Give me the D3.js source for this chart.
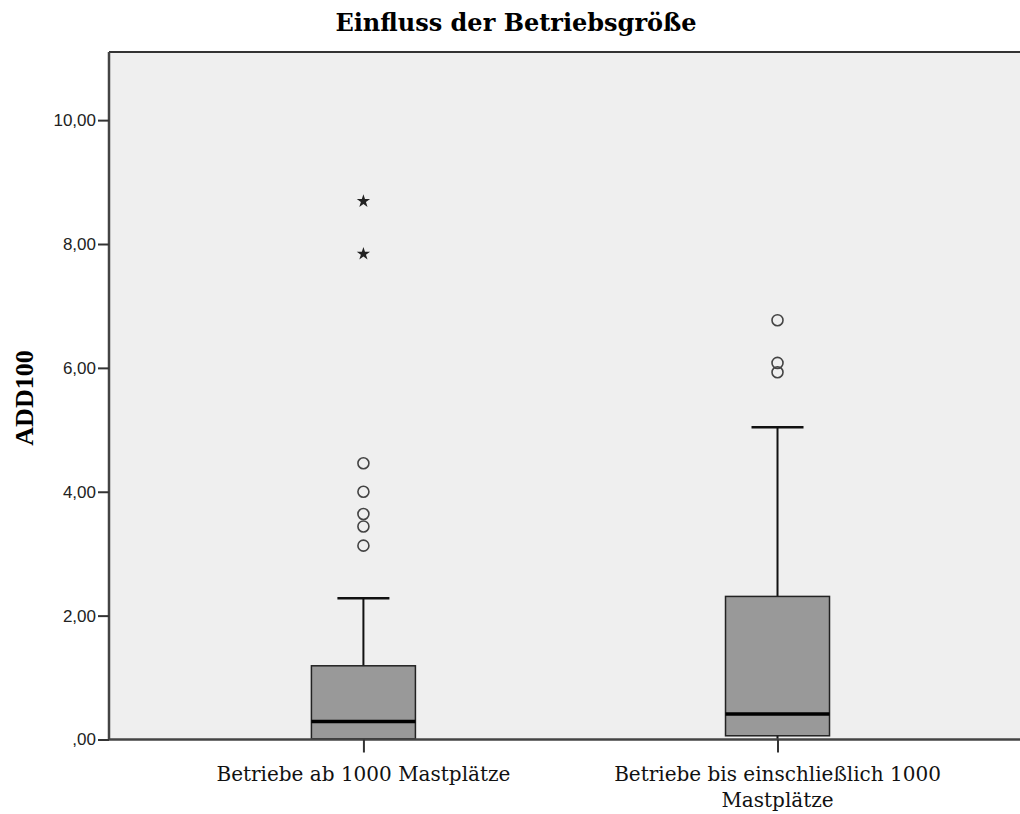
<!DOCTYPE html>
<html>
<head>
<meta charset="utf-8">
<script src="https://cdn.jsdelivr.net/npm/d3@7"></script>
<style>
  body { margin: 0; background: #fff; }
</style>
</head>
<body>
<div id="chart"></div>
<script>
// Boxplot ADD100 nach Betriebsgroesse
var categories = ["Betriebe ab 1000 Mastplätze", "Betriebe bis einschließlich 1000 Mastplätze"];
var whiskerLow = [0.00, 0.00];
var q1 = [0.01, 0.06];
var median = [0.29, 0.41];
var q3 = [1.19, 2.31];
var whiskerHigh = [2.28, 5.04];
var outliers = [[3.13, 3.44, 3.64, 4.00, 4.46], [5.93, 6.08, 6.77]];
var extremes = [[7.84, 8.69], []];
var yTicks = [0, 2, 4, 6, 8, 10];

var svgWidth = 1020,
  svgHeight = 814,
  plotLeft = 109,
  plotTop = 52,
  plotBottom = 739.5,
  plotRight = 1020,
  boxWidth = 104,
  capWidth = 52;

var de = d3.formatLocale({decimal: ",", thousands: ".", grouping: [3], currency: ["", " €"]});
var fmt = de.format(".2f");

var svg = d3.select("#chart")
  .append("svg")
  .attr("width", svgWidth)
  .attr("height", svgHeight);

var y = d3.scaleLinear()
  .domain([0, 11.1])
  .range([plotBottom, plotTop]);

var x = d3.scalePoint()
  .domain(categories)
  .range([plotLeft, plotRight])
  .padding(0.6)
  .align(0.512);

// plot background
svg.append("rect")
  .attr("x", plotLeft)
  .attr("y", plotTop)
  .attr("width", plotRight - plotLeft)
  .attr("height", plotBottom - plotTop)
  .attr("fill", "#efefef");

svg.append("line")
  .attr("x1", plotLeft).attr("x2", plotRight)
  .attr("y1", plotTop).attr("y2", plotTop)
  .attr("stroke", "#333")
  .attr("stroke-width", 2);

var rows = categories.map(function(c, i) {
  return {cat: c, lo: whiskerLow[i], q1: q1[i], med: median[i], q3: q3[i], hi: whiskerHigh[i]};
});

var g = svg.selectAll("g.box")
  .data(rows)
  .enter()
  .append("g")
  .attr("class", "box");

// whiskers
g.append("line")
  .attr("x1", function(d) { return x(d.cat); })
  .attr("x2", function(d) { return x(d.cat); })
  .attr("y1", function(d) { return y(d.q3); })
  .attr("y2", function(d) { return y(d.hi); })
  .attr("stroke", "#111")
  .attr("stroke-width", 2);

g.append("line")
  .attr("x1", function(d) { return x(d.cat); })
  .attr("x2", function(d) { return x(d.cat); })
  .attr("y1", function(d) { return y(d.q1); })
  .attr("y2", function(d) { return y(d.lo); })
  .attr("stroke", "#111")
  .attr("stroke-width", 2);

g.append("line")
  .attr("x1", function(d) { return x(d.cat) - capWidth / 2; })
  .attr("x2", function(d) { return x(d.cat) + capWidth / 2; })
  .attr("y1", function(d) { return y(d.hi); })
  .attr("y2", function(d) { return y(d.hi); })
  .attr("stroke", "#111")
  .attr("stroke-width", 2.5);

// boxes
g.append("rect")
  .attr("x", function(d) { return x(d.cat) - boxWidth / 2; })
  .attr("y", function(d) { return y(d.q3); })
  .attr("width", boxWidth)
  .attr("height", function(d) { return y(d.q1) - y(d.q3); })
  .attr("fill", "#999999")
  .attr("stroke", "#222")
  .attr("stroke-width", 1.5);

g.append("line")
  .attr("x1", function(d) { return x(d.cat) - boxWidth / 2; })
  .attr("x2", function(d) { return x(d.cat) + boxWidth / 2; })
  .attr("y1", function(d) { return y(d.med); })
  .attr("y2", function(d) { return y(d.med); })
  .attr("stroke", "#000")
  .attr("stroke-width", 3.5);

// outliers (circles)
var outPts = [];
categories.forEach(function(c, i) {
  outliers[i].forEach(function(v) { outPts.push({cat: c, v: v}); });
});
svg.selectAll("circle.outlier")
  .data(outPts)
  .enter()
  .append("circle")
  .attr("class", "outlier")
  .attr("cx", function(d) { return x(d.cat); })
  .attr("cy", function(d) { return y(d.v); })
  .attr("r", 5.5)
  .attr("fill", "none")
  .attr("stroke", "#444")
  .attr("stroke-width", 1.6);

// extremes (stars)
var extPts = [];
categories.forEach(function(c, i) {
  extremes[i].forEach(function(v) { extPts.push({cat: c, v: v}); });
});
svg.selectAll("path.extreme")
  .data(extPts)
  .enter()
  .append("path")
  .attr("class", "extreme")
  .attr("d", d3.symbol().type(d3.symbolStar).size(55))
  .attr("transform", function(d) { return "translate(" + x(d.cat) + "," + y(d.v) + ")"; })
  .attr("fill", "#222");

// y axis
var yAxis = svg.append("g")
  .attr("transform", "translate(" + plotLeft + ",0)")
  .call(d3.axisLeft(y)
    .tickValues(yTicks)
    .tickSize(11)
    .tickPadding(2)
    .tickFormat(function(d) { return d === 0 ? ",00" : fmt(d); }));
yAxis.select(".domain").attr("stroke", "#444").attr("stroke-width", 2.5).attr("d", "M0," + plotBottom + "V" + plotTop);
yAxis.selectAll(".tick line").attr("stroke", "#333").attr("stroke-width", 2);
yAxis.selectAll(".tick text")
  .attr("font-family", "'Liberation Sans', Arial, sans-serif")
  .attr("font-size", "17px")
  .attr("fill", "#222");

// x axis
var xAxis = svg.append("g")
  .attr("transform", "translate(0," + plotBottom + ")")
  .call(d3.axisBottom(x).tickSize(13).tickFormat(""));
xAxis.select(".domain").attr("stroke", "#444").attr("stroke-width", 2.5).attr("d", "M" + plotLeft + ",0H" + plotRight);
xAxis.selectAll(".tick line").attr("stroke", "#333").attr("stroke-width", 2);

// category labels, wrapped
svg.selectAll("text.catlabel")
  .data(categories)
  .enter()
  .append("text")
  .attr("class", "catlabel")
  .attr("x", function(d) { return x(d); })
  .attr("y", 781)
  .attr("font-family", "'DejaVu Serif', serif")
  .attr("font-size", "20px")
  .attr("fill", "#111")
  .style("text-anchor", "middle")
  .each(function(d) {
    var el = d3.select(this);
    var words = d.split(" ");
    var line = [];
    var tspan = el.append("tspan").attr("x", x(d)).attr("dy", 0);
    words.forEach(function(w) {
      line.push(w);
      tspan.text(line.join(" "));
      if (tspan.node().getComputedTextLength() > 340 && line.length > 1) {
        line.pop();
        tspan.text(line.join(" "));
        line = [w];
        tspan = el.append("tspan").attr("x", x(d)).attr("dy", 26).text(w);
      }
    });
  });

// title
svg.append("text")
  .attr("x", 516)
  .attr("y", 31)
  .attr("font-family", "'DejaVu Serif', serif")
  .attr("font-weight", "bold")
  .attr("font-size", "24px")
  .attr("fill", "#000")
  .style("text-anchor", "middle")
  .text("Einfluss der Betriebsgröße");

// y axis title
svg.append("text")
  .attr("transform", "translate(33,398) rotate(-90)")
  .attr("font-family", "'Liberation Serif', serif")
  .attr("font-weight", "bold")
  .attr("font-size", "26px")
  .attr("fill", "#000")
  .style("text-anchor", "middle")
  .text("ADD100");
</script>
</body>
</html>
